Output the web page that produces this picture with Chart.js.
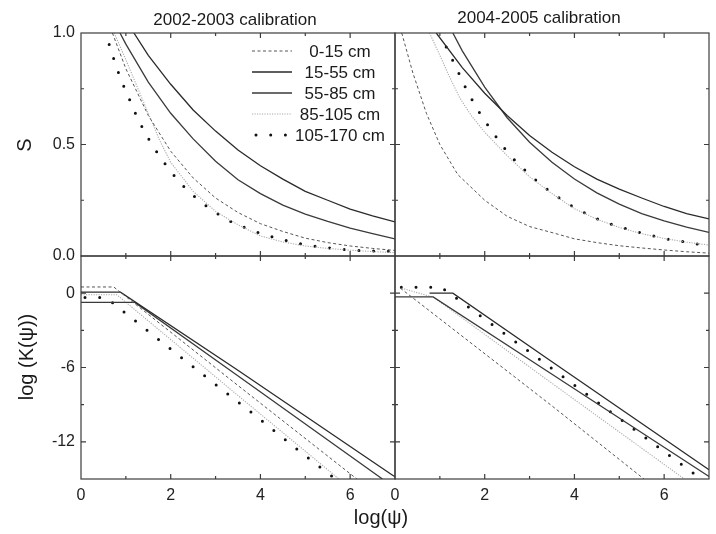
<!DOCTYPE html>
<html>
<head>
<meta charset="utf-8">
<script src="https://cdn.jsdelivr.net/npm/chart.js@4.4.1/dist/chart.umd.min.js"></script>
<style>
  html, body { margin: 0; padding: 0; background: #fff; }
  #wrap { position: relative; width: 716px; height: 534px; }
</style>
</head>
<body>
<div id="wrap"><canvas id="chart"></canvas></div>
<script>
const FONT = "'Liberation Sans', Arial, sans-serif";
const LAYERS = ["0-15 cm", "15-55 cm", "55-85 cm", "85-105 cm", "105-170 cm"];
const PANEL_TITLES = ["2002-2003 calibration", "2004-2005 calibration"];
const X_TITLE = "log(\u03c8)";
const S_TITLE = "S";
const K_TITLE = "log (K(\u03c8))";

// [log(psi), S] - 2002-2003 calibration
const S0203_0_15 = [[0.70, 1.0], [1.0, 0.84], [1.5, 0.63], [2.0, 0.47], [2.5, 0.35], [3.0, 0.26], [3.5, 0.195],
  [4.0, 0.145], [4.5, 0.11], [5.0, 0.08], [5.5, 0.06], [6.0, 0.045], [6.5, 0.034], [7.0, 0.025]];
const S0203_15_55 = [[1.18, 1.0], [1.5, 0.90], [2.0, 0.77], [2.5, 0.655], [3.0, 0.56], [3.5, 0.475], [4.0, 0.405],
  [4.5, 0.345], [5.0, 0.29], [5.5, 0.25], [6.0, 0.21], [6.5, 0.18], [7.0, 0.153]];
const S0203_55_85 = [[0.87, 1.0], [1.0, 0.95], [1.5, 0.78], [2.0, 0.64], [2.5, 0.525], [3.0, 0.425], [3.5, 0.342],
  [4.0, 0.28], [4.5, 0.228], [5.0, 0.188], [5.5, 0.155], [6.0, 0.125], [6.5, 0.1], [7.0, 0.077]];
const S0203_85_105 = [[0.74, 1.0], [1.0, 0.88], [1.25, 0.76], [1.5, 0.64], [1.75, 0.52], [2.0, 0.42], [2.5, 0.29],
  [3.0, 0.20], [3.5, 0.14], [4.0, 0.09], [4.5, 0.063], [5.0, 0.045], [5.5, 0.034], [6.0, 0.026], [6.5, 0.02], [7.0, 0.015]];
const S0203_105_170 = [[0.628, 0.948], [0.731, 0.883], [0.835, 0.822], [0.96, 0.758], [1.093, 0.697], [1.226, 0.634],
  [1.381, 0.571], [1.558, 0.507], [1.758, 0.445], [1.994, 0.38], [2.26, 0.318], [2.57, 0.259], [2.88, 0.211],
  [3.19, 0.17], [3.49, 0.14], [3.81, 0.115], [4.13, 0.093], [4.43, 0.076], [4.75, 0.061], [5.04, 0.049],
  [5.36, 0.04], [5.67, 0.033], [5.99, 0.027], [6.3, 0.024], [6.62, 0.022], [7.0, 0.02]];

// [log(psi), S] - 2004-2005 calibration
const S0405_0_15 = [[0.15, 1.0], [0.4, 0.82], [0.7, 0.64], [1.0, 0.50], [1.4, 0.365], [2.0, 0.25], [2.5, 0.178],
  [3.0, 0.132], [3.5, 0.105], [4.0, 0.077], [4.5, 0.06], [5.0, 0.046], [5.5, 0.036], [6.0, 0.027], [6.5, 0.019], [7.0, 0.013]];
const S0405_15_55 = [[0.92, 1.0], [1.5, 0.845], [2.0, 0.73], [2.5, 0.63], [3.0, 0.54], [3.5, 0.465], [4.0, 0.40],
  [4.5, 0.345], [5.0, 0.30], [5.5, 0.26], [6.0, 0.222], [6.5, 0.19], [7.0, 0.166]];
const S0405_55_85 = [[1.29, 1.0], [1.5, 0.92], [2.0, 0.757], [2.5, 0.62], [3.0, 0.51], [3.5, 0.42], [4.0, 0.345],
  [4.5, 0.283], [5.0, 0.233], [5.5, 0.19], [6.0, 0.157], [6.5, 0.129], [7.0, 0.106]];
const S0405_85_105 = [[0.77, 1.0], [1.0, 0.90], [1.2, 0.81], [1.44, 0.71], [1.7, 0.63], [2.0, 0.555], [2.5, 0.45],
  [3.0, 0.355], [3.5, 0.28], [4.0, 0.212], [4.5, 0.165], [5.0, 0.128], [5.5, 0.1], [6.0, 0.079], [6.5, 0.062], [7.0, 0.049]];
const S0405_105_170 = [[1.141, 0.937], [1.289, 0.876], [1.437, 0.813], [1.585, 0.749], [1.756, 0.686], [1.941, 0.623],
  [2.156, 0.562], [2.385, 0.496], [2.644, 0.435], [2.948, 0.374], [3.259, 0.32], [3.578, 0.271], [3.889, 0.23],
  [4.193, 0.197], [4.504, 0.167], [4.822, 0.143], [5.133, 0.123], [5.444, 0.106], [5.763, 0.09], [6.07, 0.076],
  [6.38, 0.066], [6.69, 0.055], [7.0, 0.047]];

// [log(psi), log K] - 2002-2003 calibration
const K0203_0_15 = [[0, 0.5], [0.73, 0.5], [3.456, -7.33], [6.15, -15]];
const K0203_15_55 = [[0, 0.08], [0.88, 0.08], [3.456, -6.12], [6.93, -14.65], [7.0, -14.82]];
const K0203_55_85 = [[0, -0.75], [1.2, -0.75], [3.456, -6.57], [6.72, -15]];
const K0203_85_105 = [[0, -0.13], [0.8, -0.13], [3.456, -8.13], [5.75, -15]];
const K0203_105_170 = [[0.089, -0.35], [0.56, -0.35], [1.02, -1.69], [1.95, -4.37], [2.88, -7.03], [3.82, -9.69],
  [4.74, -12.37], [5.36, -14.14], [5.67, -15]];

// [log(psi), log K] - 2004-2005 calibration
const K0405_0_15 = [[0.12, 0.4], [3.5, -9.1], [5.55, -15]];
const K0405_15_55 = [[0.77, 0], [1.29, 0], [3.467, -5.45], [7.0, -14.25]];
const K0405_55_85 = [[0, -0.3], [0.85, -0.3], [3.5, -6.55], [7.0, -14.8]];
const K0405_85_105 = [[0.15, 0.4], [0.87, -0.35], [3.467, -7.19], [6.45, -15]];
const K0405_105_170 = [[0.141, 0.48], [1.03, 0.48], [1.385, -0.45], [4.504, -8.77], [6.83, -15]];

const LAYER_STYLE = [
  { color: "#555", width: 1, dash: [3, 2.5], cap: "butt" },
  { color: "#2a2a2a", width: 1.3, dash: [], cap: "butt" },
  { color: "#3a3a3a", width: 1.3, dash: [], cap: "butt" },
  { color: "#aaa", width: 1.1, dash: [1.2, 1.3], cap: "butt" },
  { color: "#111", width: 3, dash: [0, 14.7], cap: "round" },
];

const PANELS = [
  { x: "xL", y: "yS", series: [S0203_0_15, S0203_15_55, S0203_55_85, S0203_85_105, S0203_105_170] },
  { x: "xR", y: "yS", series: [S0405_0_15, S0405_15_55, S0405_55_85, S0405_85_105, S0405_105_170] },
  { x: "xL", y: "yK", series: [K0203_0_15, K0203_15_55, K0203_55_85, K0203_85_105, K0203_105_170] },
  { x: "xR", y: "yK", series: [K0405_0_15, K0405_15_55, K0405_55_85, K0405_85_105, K0405_105_170] },
];

const datasets = [];
PANELS.forEach(p => p.series.forEach((pts, i) => {
  const st = LAYER_STYLE[i];
  datasets.push({
    label: LAYERS[i],
    data: pts.map(([x, y]) => ({ x, y })),
    xAxisID: p.x,
    yAxisID: p.y,
    borderColor: st.color,
    borderWidth: st.width,
    borderDash: st.dash,
    borderCapStyle: st.cap,
    pointRadius: 0,
    tension: 0,
    fill: false,
  });
}));

const tickFont = { family: FONT, size: 16 };

function xAxis() {
  return {
    type: "linear", position: "bottom", stack: "x", min: 0, max: 7,
    grid: { display: false, drawTicks: false }, border: { display: false },
    ticks: { stepSize: 1, padding: 7, color: "#222", font: tickFont, autoSkip: false, maxRotation: 0,
      callback: v => (v % 2 === 0 ? String(v) : "") },
    afterFit: s => { s.height = 55; },
  };
}

function yAxis(min, max, step, labelEvery, fmt) {
  return {
    type: "linear", position: "left", stack: "y", min, max,
    grid: { display: false, drawTicks: false }, border: { display: false },
    ticks: { stepSize: step, padding: 6, color: "#222", font: tickFont, autoSkip: false,
      callback: v => (Math.abs(v / labelEvery - Math.round(v / labelEvery)) < 1e-6 ? fmt(v) : "") },
    afterFit: s => { s.width = 81; },
  };
}

function strokeDashed(ctx, st, x1, y1, x2, y2) {
  ctx.save();
  ctx.strokeStyle = st.color;
  ctx.lineWidth = st.width;
  ctx.setLineDash(st.dash);
  ctx.lineCap = st.cap;
  ctx.beginPath();
  ctx.moveTo(x1, y1);
  ctx.lineTo(x2, y2);
  ctx.stroke();
  ctx.restore();
}

const panelDecor = {
  id: "panelDecor",
  afterDatasetsDraw(chart) {
    const { ctx, scales: s } = chart;
    const frames = [[s.xL, s.yS], [s.xR, s.yS], [s.xL, s.yK], [s.xR, s.yK]];
    ctx.save();
    ctx.strokeStyle = "#3c3c3c";
    ctx.lineWidth = 1.2;
    frames.forEach(([xs, ys]) => {
      const l = xs.left, r = xs.right, t = ys.top, b = ys.bottom;
      ctx.strokeRect(l, t, r - l, b - t);
      ctx.beginPath();
      xs.ticks.forEach(tk => {
        if (tk.value <= xs.min || tk.value >= xs.max) return;
        const px = xs.getPixelForValue(tk.value);
        const len = tk.label !== "" ? 5 : 3;
        ctx.moveTo(px, b); ctx.lineTo(px, b - len);
        ctx.moveTo(px, t); ctx.lineTo(px, t + len);
      });
      ys.ticks.forEach(tk => {
        if (tk.value <= ys.min || tk.value >= ys.max) return;
        const py = ys.getPixelForValue(tk.value);
        const len = tk.label !== "" ? 5 : 3;
        ctx.moveTo(l, py); ctx.lineTo(l + len, py);
        ctx.moveTo(r, py); ctx.lineTo(r - len, py);
      });
      ctx.stroke();
    });
    ctx.restore();
  },
  afterDraw(chart) {
    const { ctx } = chart;
    ctx.save();
    ctx.fillStyle = "#1a1a1a";
    ctx.textBaseline = "middle";
    ctx.textAlign = "center";
    ctx.font = `17px ${FONT}`;
    ctx.fillText(PANEL_TITLES[0], 235, 20);
    ctx.fillText(PANEL_TITLES[1], 539, 18);

    ctx.font = `20px ${FONT}`;
    ctx.fillText(X_TITLE, 381, 518);
    [[S_TITLE, 25, 145], [K_TITLE, 27, 357]].forEach(([txt, x, y]) => {
      ctx.save();
      ctx.translate(x, y);
      ctx.rotate(-Math.PI / 2);
      ctx.fillText(txt, 0, 0);
      ctx.restore();
    });

    // legend inside the upper-left panel
    const rows = [51, 72, 93, 114, 135];
    ctx.font = `17px ${FONT}`;
    LAYERS.forEach((name, i) => {
      const st = LAYER_STYLE[i];
      if (i === 4) strokeDashed(ctx, st, 256, rows[i], 286, rows[i]);
      else strokeDashed(ctx, st, 252, rows[i], 292, rows[i]);
      ctx.fillText(name, 340, rows[i] + 1);
    });
    ctx.restore();
  },
};

new Chart(document.getElementById("chart"), {
  type: "line",
  data: { datasets },
  options: {
    responsive: true,
    maintainAspectRatio: false,
    animation: false,
    events: [],
    layout: { padding: { top: 33, right: 4, left: 0, bottom: 0 } },
    plugins: { legend: { display: false }, tooltip: { enabled: false }, title: { display: false } },
    scales: {
      xL: xAxis(),
      xR: xAxis(),
      yK: yAxis(-15, 3, 3, 6, v => String(v)),
      yS: yAxis(0, 1, 0.25, 0.5, v => v.toFixed(1)),
    },
  },
  plugins: [panelDecor],
});
</script>
</body>
</html>
